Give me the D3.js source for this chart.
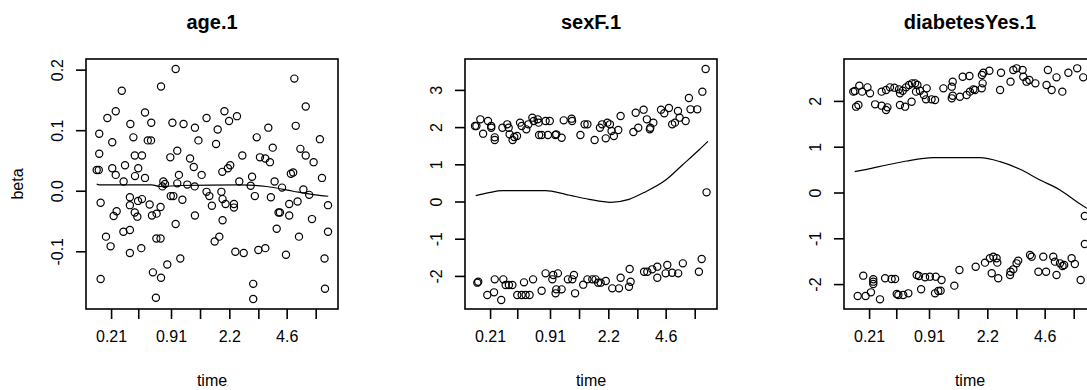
<!DOCTYPE html>
<html><head><meta charset="utf-8">
<script src="https://cdn.jsdelivr.net/npm/d3@7"></script>
<style>body{margin:0;background:#fff} text{font-family:"Liberation Sans",Arial,sans-serif;fill:#000}</style>
</head><body><svg id="c" width="1087" height="390"></svg>
<script>
// ---------- data ----------
const panelTitles = ["age.1", "sexF.1", "diabetesYes.1"];
const xTickValues = [6.2, 17.9, 32.0, 44.5, 57.1, 69.6, 81.8, 94.3];
const xTickLabels = ["0.21", "", "0.91", "", "2.2", "", "4.6", ""];
const xLimits = [-4.6, 103.9];

const ageYLimits = [-0.1945, 0.2184];
const ageYTicks = [-0.1, 0.0, 0.1, 0.2];
const ageYTickLabels = ["-0.1", "0.0", "0.1", "0.2"];
const sexYLimits = [-2.876, 3.844];
const sexYTicks = [-2, -1, 0, 1, 2, 3];
const sexYTickLabels = ["-2", "-1", "0", "1", "2", "3"];
const diabYLimits = [-2.533, 2.926];
const diabYTicks = [-2, -1, 0, 1, 2];
const diabYTickLabels = ["-2", "-1", "0", "1", "2"];

const agePoints = [[34.0,0.202],[85.1,0.186],[10.8,0.166],[27.7,0.173],[90.0,0.140],[8.2,0.132],[4.6,0.121],[20.8,0.130],[23.5,0.113],[14.5,0.111],[32.6,0.113],[37.4,0.111],[42.3,0.105],[47.3,0.121],[55.0,0.132],[57.0,0.116],[60.4,0.124],[52.1,0.102],[73.9,0.105],[85.7,0.108],[1.1,0.095],[6.7,0.081],[15.8,0.089],[22.0,0.084],[23.4,0.084],[43.8,0.084],[51.4,0.078],[68.9,0.089],[75.8,0.072],[96.1,0.086],[1.1,0.062],[16.4,0.059],[19.5,0.059],[31.7,0.056],[34.7,0.067],[40.2,0.054],[41.8,0.040],[62.7,0.059],[70.3,0.056],[72.6,0.054],[74.6,0.048],[87.7,0.070],[90.0,0.059],[93.4,0.048],[0.0,0.035],[0.9,0.035],[6.7,0.038],[8.2,0.027],[12.2,0.043],[17.9,0.038],[16.5,0.025],[20.8,0.022],[11.6,0.016],[35.4,0.027],[45.2,0.027],[54.1,0.032],[56.5,0.038],[57.5,0.043],[61.4,0.016],[66.9,0.024],[76.6,0.016],[84.6,0.031],[83.6,0.029],[97.0,0.022],[28.7,0.016],[29.4,0.012],[34.7,0.013],[39.0,0.011],[42.2,0.008],[66.3,0.009],[79.8,0.006],[89.0,0.003],[91.5,-0.006],[28.3,0.008],[1.7,-0.019],[14.3,-0.010],[14.3,-0.023],[17.8,-0.016],[19.5,-0.013],[22.8,-0.022],[27.5,-0.026],[31.9,-0.008],[33.0,-0.008],[36.9,-0.014],[47.3,-0.001],[48.5,-0.008],[49.6,-0.024],[53.7,-0.001],[54.2,-0.013],[55.5,-0.021],[59.1,-0.021],[59.1,-0.027],[68.1,-0.008],[75.0,-0.010],[82.9,-0.021],[86.5,-0.017],[99.6,-0.023],[7.3,-0.041],[8.6,-0.033],[16.4,-0.035],[17.5,-0.042],[23.8,-0.040],[25.8,-0.037],[78.3,-0.035],[78.9,-0.035],[82.9,-0.040],[92.7,-0.046],[34.0,-0.054],[42.3,-0.040],[54.2,-0.048],[77.5,-0.062],[99.6,-0.067],[11.5,-0.067],[14.3,-0.064],[4.0,-0.075],[6.0,-0.091],[25.7,-0.078],[27.5,-0.078],[14.3,-0.102],[19.2,-0.094],[36.0,-0.111],[50.8,-0.083],[52.8,-0.075],[59.7,-0.100],[63.3,-0.102],[69.6,-0.097],[72.6,-0.094],[81.5,-0.105],[87.1,-0.075],[98.1,-0.111],[1.7,-0.145],[24.2,-0.134],[27.7,-0.143],[30.4,-0.121],[67.4,-0.153],[98.3,-0.161],[25.5,-0.176],[67.4,-0.178]];
const ageSmooth = [[0,0.012],[1.1,0.0106],[23.7,0.0106],[27.2,0.0078],[35.9,0.0095],[61.7,0.0106],[73.2,0.0078],[84.6,0.0],[93.2,-0.0055],[99.7,-0.0083]];

const sexPoints = [[-0.3,2.043],[0.3,2.043],[2.0,2.222],[3.2,1.837],[5.3,2.177],[6.7,2.043],[6.7,1.998],[8.2,1.738],[8.2,1.667],[11.5,1.998],[13.6,2.088],[14.2,1.998],[14.6,1.819],[15.9,1.667],[16.6,1.747],[17.8,1.774],[19.1,2.133],[19.8,2.043],[21.8,1.953],[22.7,2.088],[24.4,2.267],[25.0,2.177],[26.7,2.222],[27.1,2.133],[27.3,1.801],[28.4,1.801],[30.1,2.177],[31.1,1.801],[31.9,2.177],[34.3,1.801],[34.7,1.819],[37.0,1.729],[37.9,2.195],[41.3,2.240],[41.5,2.177],[45.1,1.801],[46.9,2.088],[48.1,2.088],[51.2,1.667],[53.5,1.998],[54.4,2.088],[56.0,1.711],[56.7,2.133],[57.8,2.088],[58.5,1.909],[59.5,1.774],[61.4,1.935],[62.4,2.312],[67.9,1.882],[68.9,2.401],[70.0,1.998],[72.3,2.482],[73.7,2.222],[75.0,1.953],[75.2,1.998],[76.5,2.133],[79.8,2.482],[81.2,2.384],[83.2,2.527],[84.6,2.088],[85.8,2.133],[87.1,2.446],[87.8,2.267],[90.4,2.177],[91.8,2.796],[92.5,2.491],[95.4,2.491],[97.6,2.966],[99.0,3.575],[99.4,0.260],
[0.7,-2.168],[1.1,-2.142],[5.0,-2.5],[7.9,-2.428],[11.0,-2.634],[8.2,-2.079],[11.9,-2.079],[12.9,-2.231],[14.3,-2.231],[15.8,-2.231],[17.9,-2.5],[19.8,-2.5],[21.5,-2.5],[23.2,-2.5],[20.8,-2.16],[24.7,-2.079],[28.4,-2.384],[30.1,-1.918],[33.4,-1.962],[35.4,-1.918],[33.0,-2.079],[34.4,-2.455],[34.7,-2.348],[37.0,-2.348],[39.7,-2.079],[42.3,-1.962],[41.6,-2.079],[42.8,-2.455],[46.3,-2.222],[48.1,-2.079],[50.2,-2.079],[51.6,-2.079],[52.7,-2.168],[53.8,-2.168],[56.0,-2.124],[58.8,-2.321],[61.7,-2.321],[62.4,-2.034],[66.0,-2.276],[66.7,-2.142],[66.3,-1.801],[72.5,-1.873],[73.9,-1.873],[76.0,-1.810],[78.2,-1.738],[78.2,-2.034],[81.8,-1.918],[82.5,-1.694],[84.6,-1.900],[87.2,-1.918],[89.2,-1.649],[96.1,-1.873],[97.3,-1.532]];
const sexSmooth = [[0,0.17],[5.7,0.25],[11.5,0.305],[30.1,0.305],[38.7,0.206],[48.8,0.072],[58.1,-0.009],[66.0,0.072],[73.2,0.278],[81.8,0.591],[89.0,0.995],[96.1,1.398],[100,1.63]];

const diabPoints = [[-0.6,2.213],[0.1,2.227],[2.0,2.344],[3.2,2.213],[5.5,2.307],[6.6,2.176],[0.6,1.885],[1.6,1.921],[8.8,1.936],[11.6,1.907],[13.5,1.812],[14.1,1.870],[11.6,2.213],[13.5,2.249],[15.2,2.307],[17.1,2.300],[19.1,2.263],[19.5,2.176],[20.7,2.234],[22.1,2.307],[23.4,2.358],[24.7,2.394],[26.0,2.394],[27.0,2.358],[26.4,2.213],[28.1,2.234],[31.0,2.285],[29.8,2.140],[30.7,2.045],[33.1,2.045],[34.6,2.031],[19.5,1.921],[21.7,1.885],[24.5,1.994],[38.2,2.285],[41.8,2.322],[42.2,2.431],[42.2,2.125],[46.5,2.540],[49.4,2.555],[41.8,2.067],[45.3,2.103],[48.2,2.140],[49.6,2.213],[51.1,2.263],[51.8,2.249],[54.7,2.285],[55.1,2.394],[54.8,2.576],[55.4,2.627],[58.0,2.671],[63.0,2.627],[68.3,2.686],[69.7,2.722],[72.3,2.686],[72.6,2.540],[74.0,2.431],[75.2,2.467],[77.8,2.394],[83.2,2.686],[82.6,2.358],[84.8,2.249],[86.9,2.525],[89.4,2.213],[92.0,2.627],[95.8,2.722],[98.4,2.525],[62.6,2.249],[67.1,2.431],[99.1,-0.502],[99.1,-1.113],
[1.3,-2.249],[4.7,-2.249],[7.0,-2.169],[10.9,-2.322],[3.7,-1.805],[8.0,-1.885],[8.0,-1.936],[8.0,-1.987],[13.1,-1.863],[15.9,-1.878],[17.4,-1.878],[18.1,-2.205],[18.8,-2.227],[20.9,-2.227],[23.1,-2.191],[26.7,-1.790],[27.7,-1.812],[30.3,-1.841],[32.4,-1.827],[34.9,-1.827],[37.4,-1.900],[28.6,-2.103],[34.6,-2.191],[36.0,-2.140],[37.0,-2.133],[42.9,-2.023],[45.1,-1.681],[52.1,-1.609],[56.1,-1.521],[58.2,-1.426],[59.7,-1.390],[61.1,-1.426],[61.4,-1.521],[59.0,-1.754],[61.8,-1.863],[66.9,-1.790],[67.1,-1.718],[68.3,-1.667],[69.7,-1.536],[70.4,-1.477],[75.5,-1.354],[76.2,-1.390],[81.2,-1.390],[79.1,-1.718],[82.4,-1.718],[85.5,-1.390],[86.2,-1.499],[86.9,-1.790],[88.4,-1.536],[89.5,-1.594],[90.2,-1.572],[93.4,-1.426],[94.8,-1.550],[97.3,-1.900]];
const diabSmooth = [[0,0.466],[5.2,0.517],[13.8,0.611],[22.4,0.699],[33.9,0.771],[42.5,0.771],[53.9,0.771],[62.6,0.684],[71.2,0.517],[79.8,0.284],[88.4,0.066],[95.6,-0.189],[100,-0.335]];

// ---------- layout ----------
const panelOffsets = [0, 379, 758];
const box = {left: 86, right: 338, top: 59, bottom: 309};
const panels = [
  {title: panelTitles[0], pts: agePoints, smooth: ageSmooth, yLim: ageYLimits, yTicks: ageYTicks, yLabs: ageYTickLabels, ylab: "beta"},
  {title: panelTitles[1], pts: sexPoints, smooth: sexSmooth, yLim: sexYLimits, yTicks: sexYTicks, yLabs: sexYTickLabels, ylab: ""},
  {title: panelTitles[2], pts: diabPoints, smooth: diabSmooth, yLim: diabYLimits, yTicks: diabYTicks, yLabs: diabYTickLabels, ylab: ""}
];

const FONT = '"Liberation Sans",Arial,sans-serif';
const svg = d3.select("#c");
panels.forEach((p, i) => {
  const g = svg.append("g").attr("transform", `translate(${panelOffsets[i]},0)`);
  const x = d3.scaleLinear().domain(xLimits).range([box.left, box.right]);
  const y = d3.scaleLinear().domain(p.yLim).range([box.bottom, box.top]);

  // points
  g.append("g").selectAll("circle").data(p.pts).join("circle")
    .attr("cx", d => x(d[0])).attr("cy", d => y(d[1])).attr("r", 3.6)
    .attr("fill", "none").attr("stroke", "#000").attr("stroke-width", 1.2);

  // smooth
  g.append("path").datum(p.smooth)
    .attr("d", d3.line().curve(d3.curveMonotoneX).x(d => x(d[0])).y(d => y(d[1])))
    .attr("fill", "none").attr("stroke", "#000").attr("stroke-width", 1.2);

  // box
  g.append("rect").attr("x", box.left).attr("y", box.top)
    .attr("width", box.right - box.left).attr("height", box.bottom - box.top)
    .attr("fill", "none").attr("stroke", "#000").attr("stroke-width", 1.6);

  // x axis
  const xa = d3.axisBottom(x).tickValues(xTickValues)
    .tickFormat((d, k) => xTickLabels[k]).tickSize(10).tickPadding(12);
  const xg = g.append("g").attr("transform", `translate(0,${box.bottom})`).call(xa);
  xg.select(".domain").remove();
  xg.selectAll("line").attr("stroke", "#000").attr("stroke-width", 1.6);
  xg.selectAll("text").attr("font-size", 16).attr("fill", "#000").style("font-family", FONT);

  // y axis
  const ya = d3.axisLeft(y).tickValues(p.yTicks)
    .tickFormat((d, k) => p.yLabs[k]).tickSize(10).tickPadding(0);
  const yg = g.append("g").attr("transform", `translate(${box.left},0)`).call(ya);
  yg.select(".domain").remove();
  yg.selectAll("line").attr("stroke", "#000").attr("stroke-width", 1.6);
  yg.selectAll("text")
    .attr("x", null).attr("dy", null)
    .attr("transform", d => `translate(-29,${y(d)}) rotate(-90)`)
    .attr("y", 0).attr("text-anchor", "middle").attr("dominant-baseline", "central")
    .attr("font-size", 16).attr("fill", "#000").style("font-family", FONT);
  yg.selectAll(".tick").attr("transform", null);
  yg.selectAll(".tick line").attr("y1", d => y(d)).attr("y2", d => y(d));

  // title
  g.append("text").attr("x", (box.left + box.right) / 2).attr("y", 22)
    .attr("text-anchor", "middle").attr("dominant-baseline", "central")
    .attr("font-weight", "bold").attr("font-size", 20).text(p.title);

  // x label
  g.append("text").attr("x", (box.left + box.right) / 2).attr("y", 380)
    .attr("text-anchor", "middle").attr("dominant-baseline", "central")
    .attr("font-size", 16).text("time");

  if (p.ylab) {
    g.append("text").attr("transform", `translate(17,${(box.top + box.bottom) / 2}) rotate(-90)`)
      .attr("text-anchor", "middle").attr("dominant-baseline", "central")
      .attr("font-size", 16).text(p.ylab);
  }
});
</script></body></html>
